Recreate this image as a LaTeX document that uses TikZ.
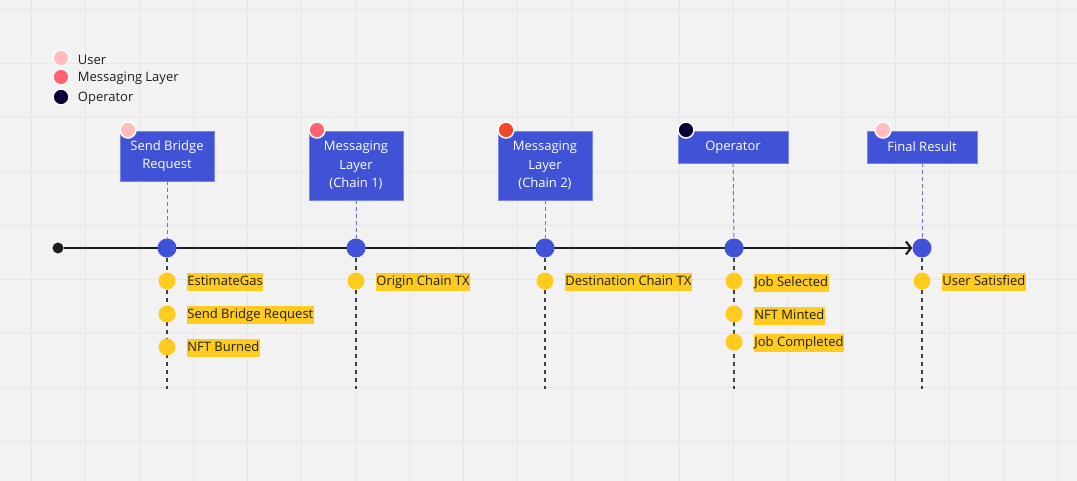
\documentclass[tikz,border=0pt]{standalone}
\usepackage{fontspec}
\setmainfont{Open Sans}
\usetikzlibrary{arrows.meta,positioning}
\definecolor{boardgray}{HTML}{F2F2F2}
\definecolor{gridgray}{HTML}{E7E7E7}
\definecolor{stepblue}{HTML}{4052D6}
\definecolor{userpink}{HTML}{FFBDBD}
\definecolor{msgred}{HTML}{FF6370}
\definecolor{chainred}{HTML}{F24726}
\definecolor{opnavy}{HTML}{050038}
\definecolor{eventyellow}{HTML}{FFCB1F}
\definecolor{inkgray}{HTML}{1E1E1E}
\pgfdeclarelayer{board}
\pgfdeclarelayer{wires}
\pgfsetlayers{board,wires,main}

\begin{document}
\begin{tikzpicture}[x=1pt, y=-1pt,
    font=\fontsize{13}{18.5}\selectfont,
    stepbox/.style={fill=stepblue, draw=stepblue!70!white, text=white, align=center, minimum width=94pt, inner sep=2pt},
    tagdot/.style={circle, draw=white, line width=1.5pt, inner sep=0pt, minimum size=16pt},
    stop/.style={circle, fill=stepblue, inner sep=0pt, minimum size=19pt},
    event/.style={circle, fill=eventyellow, inner sep=0pt, minimum size=17pt},
    eventlabel/.style={fill=eventyellow, text=inkgray, inner xsep=0.5pt, inner ysep=2.5pt, text height=10pt, text depth=3pt, right=11pt of #1, yshift=-1pt},
    legendtext/.style={text=inkgray, inner sep=0pt, right=8pt of #1, yshift=-1.5pt},
    guide/.style={stepblue!80!white, line width=1pt, dash pattern=on 4pt off 3pt},
    drop/.style={inkgray!85!white, line width=1.2pt, dash pattern=on 4pt off 4pt}]

    \useasboundingbox (0,0) rectangle (1077,481);
    \begin{pgfonlayer}{board}
        \fill[boardgray] (0,0) rectangle (1077,481);
        \draw[gridgray, line width=0.8pt, xstep=54pt, ystep=54pt, shift={(31pt,-9.5pt)}] (-31,-9.5) grid (1046,471.5);
    \end{pgfonlayer}

    % legend
    \node[tagdot, fill=userpink] (keyuser) at (61,58) {};
    \node[legendtext=keyuser] {User};
    \node[tagdot, fill=msgred] (keymsg) at (61,77) {};
    \node[legendtext=keymsg] {Messaging Layer};
    \node[tagdot, fill=opnavy] (keyop) at (61,97) {};
    \node[legendtext=keyop] {Operator};

    % phases
    \node[stepbox, minimum height=50pt] (request) at (167,156) {Send Bridge\\Request};
    \node[stepbox, minimum height=69pt] (chainone) at (356,165.5) {Messaging\\Layer\\(Chain 1)};
    \node[stepbox, minimum height=69pt] (chaintwo) at (545,165.5) {Messaging\\Layer\\(Chain 2)};
    \node[stepbox, minimum width=110pt, minimum height=32pt] (operator) at (733,147) {Operator};
    \node[stepbox, minimum width=110pt, minimum height=32pt] (final) at (922,147) {Final Result};

    \node[tagdot, fill=userpink] (requesttag) at (128,130) {};
    \node[tagdot, fill=msgred] (chainonetag) at (317,130) {};
    \node[tagdot, fill=chainred] (chaintwotag) at (506,130) {};
    \node[tagdot, fill=opnavy] (operatortag) at (686,130) {};
    \node[tagdot, fill=userpink] (finaltag) at (883,130) {};

    % timeline
    \node[circle, fill=inkgray, inner sep=0pt, minimum size=11pt] (origin) at (58,248) {};
    \node[stop] (s1) at (167,248) {};
    \node[stop] (s2) at (356,248) {};
    \node[stop] (s3) at (545,248) {};
    \node[stop] (s4) at (734,248) {};
    \node[stop] (s5) at (922,248) {};
    \coordinate (e1) at (167,389);
    \coordinate (e2) at (356,389);
    \coordinate (e3) at (545,389);
    \coordinate (e4) at (734,389);
    \coordinate (e5) at (922,389);

    % events
    \node[event] (gas) at (167,281) {};
    \node[eventlabel=gas] {EstimateGas};
    \node[event] (send) at (167,314) {};
    \node[eventlabel=send] {Send Bridge Request};
    \node[event] (burn) at (167,347) {};
    \node[eventlabel=burn] {NFT Burned};
    \node[event] (origintx) at (356,281) {};
    \node[eventlabel=origintx] {Origin Chain TX};
    \node[event] (desttx) at (545,281) {};
    \node[eventlabel=desttx] {Destination Chain TX};
    \node[event] (selected) at (734,281) {};
    \node[eventlabel=selected, yshift=-1pt] {Job Selected};
    \node[event] (minted) at (734,314) {};
    \node[eventlabel=minted, yshift=-1pt] {NFT Minted};
    \node[event] (completed) at (734,342) {};
    \node[eventlabel=completed] {Job Completed};
    \node[event] (satisfied) at (922,281) {};
    \node[eventlabel=satisfied] {User Satisfied};

    \begin{pgfonlayer}{wires}
        \draw[inkgray, line width=2.5pt, -{Straight Barb[length=5pt, width=13pt, line width=2.2pt]}] (origin) -- (s5.west);
        \draw[guide] (request) -- (s1);
        \draw[guide] (chainone) -- (s2);
        \draw[guide] (chaintwo) -- (s3);
        \draw[guide] (operator) -- (s4);
        \draw[guide] (final) -- (s5);
        \draw[drop] (s1) -- (e1);
        \draw[drop] (s2) -- (e2);
        \draw[drop] (s3) -- (e3);
        \draw[drop] (s4) -- (e4);
        \draw[drop] (s5) -- (e5);
    \end{pgfonlayer}
\end{tikzpicture}
\end{document}
